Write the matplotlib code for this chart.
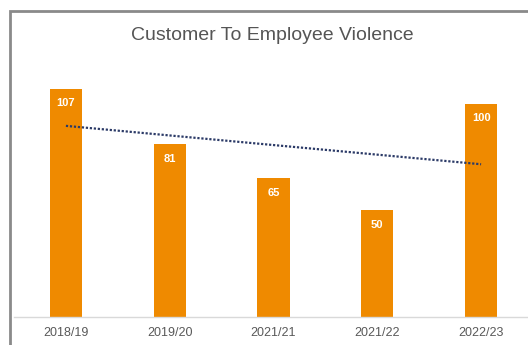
import numpy as np
import matplotlib.pyplot as plt
from matplotlib.patches import Rectangle

plt.rcParams['font.family'] = ['Liberation Sans', 'DejaVu Sans']

years = ['2018/19', '2019/20', '2021/21', '2021/22', '2022/23']
incidents = [107, 81, 65, 50, 100]

fig = plt.figure(figsize=(5.28, 3.45), dpi=100)
W, H = 528, 345

# chart frame (runs off the right and bottom edges)
fig.patches.append(Rectangle((10 / W, -0.1), 1.2, 1 - 11 / H + 0.1,
                             transform=fig.transFigure, fill=False,
                             edgecolor='#8a8a8a', linewidth=2, zorder=0))

ax = fig.add_axes([14 / W, 28 / H, 519 / W, 256 / H])
x = np.arange(len(years))
bars = ax.bar(x, incidents, width=0.31, color='#EF8A00', zorder=2)

for b, v in zip(bars, incidents):
    ax.text(b.get_x() + b.get_width() / 2, v - 4.5, str(v), ha='center', va='top',
            color='white', fontsize=8, fontweight='bold', zorder=3)

# linear trend line
k, c = np.polyfit(x, incidents, 1)
ax.plot(x[[0, -1]], k * x[[0, -1]] + c, color='#2B3A67', linewidth=1.6,
        linestyle=(0, (1, 0.8)), zorder=4)

ax.set_xlim(-0.5, 4.5)
ax.set_ylim(0, 120)
ax.set_xticks(x)
ax.set_xticklabels(years, fontsize=9, color='#595959')
ax.tick_params(axis='x', length=0, pad=7)
ax.set_yticks([])
for s in ['top', 'right', 'left']:
    ax.spines[s].set_visible(False)
ax.spines['bottom'].set_color('#d9d9d9')
ax.spines['bottom'].set_linewidth(1)

fig.text(272 / W, 1 - 35 / H, 'Customer To Employee Violence', ha='center', va='center',
         fontsize=14, color='#555555')

fig.savefig('out.png', dpi=100)
